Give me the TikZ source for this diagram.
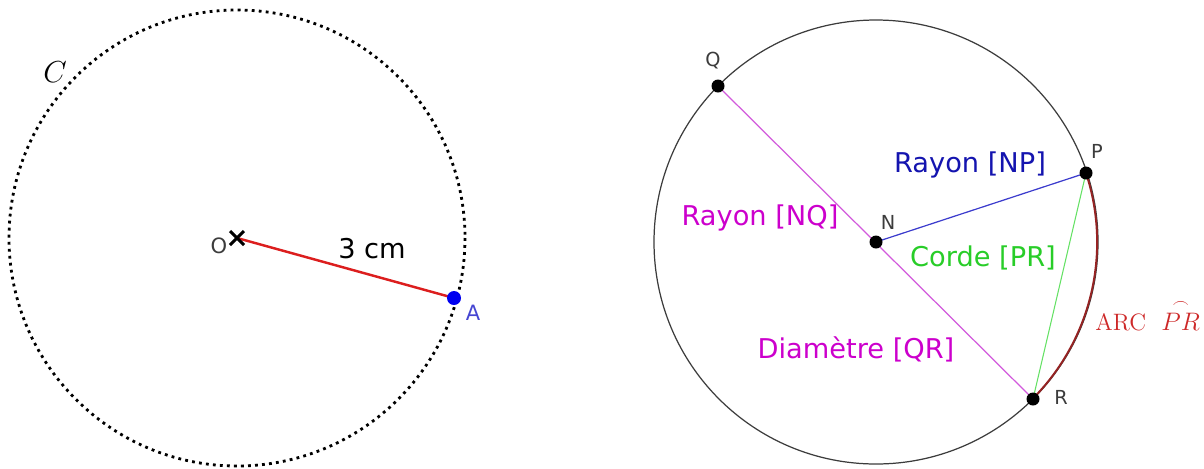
\documentclass[tikz,border=0pt]{standalone}
\usepackage{amsmath}
\usepackage{fontspec}
\newfontfamily\geofont{DejaVu Sans}
\usetikzlibrary{arrows.meta}
\definecolor{rayc}{RGB}{220,30,30}
\definecolor{ptac}{RGB}{0,0,240}
\definecolor{labac}{RGB}{70,70,210}
\definecolor{diamc}{RGB}{204,0,204}
\definecolor{diamlc}{RGB}{210,90,220}
\definecolor{npc}{RGB}{20,20,175}
\definecolor{nplc}{RGB}{60,60,205}
\definecolor{cordc}{RGB}{40,205,40}
\definecolor{cordlc}{RGB}{100,225,100}
\definecolor{arcc}{RGB}{150,35,35}
\definecolor{arctc}{RGB}{205,40,40}
\definecolor{inkc}{RGB}{60,60,60}

\newcommand{\biglbl}{\fontsize{15.5}{18}\selectfont}
\newcommand{\ptlbl}{\fontsize{11}{13}\selectfont}

\begin{document}
\begin{tikzpicture}[x=0.02cm, y=-0.02cm, line cap=round, font=\geofont,
    pt/.style={circle, fill=black, inner sep=0pt, minimum size=0.26cm}]
  \useasboundingbox (0,0) rectangle (1204,468);

  % left: circle C, drawn dotted, with its radius [OA]
  \coordinate (O) at (237,238);
  \coordinate (A) at (454,298);
  \draw[black, line width=1.6pt, line cap=butt, dash pattern=on 1.6pt off 2.4pt] (O) circle (228);
  \node (c) at (55,72) {\fontsize{17}{20}\selectfont$C$};
  \draw[rayc, line width=1.4pt] (O) -- (A);
  \draw[black, line width=1.8pt, line cap=butt] (230,231) -- (244,245) (230,245) -- (244,231);
  \node[pt, fill=ptac, minimum size=0.28cm] (a) at (A) {};
  \node[inkc, font=\geofont\fontsize{12}{14}\selectfont] (o) at (219,246) {O};
  \node[labac, font=\geofont\fontsize{12}{14}\selectfont] (alab) at (473,313) {A};
  \node (len) at (372,249) {\fontsize{15.5}{18}\selectfont 3 cm};

  % right: circle of centre N, radii, diameter, chord and arc
  \coordinate (N) at (876,242);
  \coordinate (P) at (1086,173);
  \coordinate (Q) at (718,86);
  \coordinate (R) at (1033,399);
  \draw[inkc, line width=0.7pt] (N) circle (222);
  \draw[arcc, line width=1.1pt] (P) arc[start angle=-18.2, end angle=45, radius=222];
  \draw[diamlc, line width=0.7pt] (Q) -- (R);
  \draw[nplc, line width=0.7pt] (N) -- (P);
  \draw[cordlc, line width=0.6pt] (P) -- (R);
  \foreach \p in {N,P,Q,R}
    \node[pt] (dot\p) at (\p) {};

  % point names
  \node[inkc] (q) at (713,61) {\ptlbl Q};
  \node[inkc] (n) at (888,222) {\ptlbl N};
  \node[inkc] (p) at (1097,151) {\ptlbl P};
  \node[inkc] (r) at (1061,397) {\ptlbl R};

  % names of the segments
  \node[diamc] (nq) at (760,218) {\biglbl Rayon [NQ]};
  \node[npc] (np) at (970,165) {\biglbl Rayon [NP]};
  \node[cordc] (pr) at (983,258) {\biglbl Corde [PR]};
  \node[diamc] (qr) at (856,349) {\biglbl Diamètre [QR]};
  \node[arctc, anchor=base west, inner sep=0pt] (arcpr) at (1095,330)
    {\fontsize{13.5}{16}\selectfont\rmfamily ARC\ \ $\overset{\frown}{PR}$};

\end{tikzpicture}
\end{document}
